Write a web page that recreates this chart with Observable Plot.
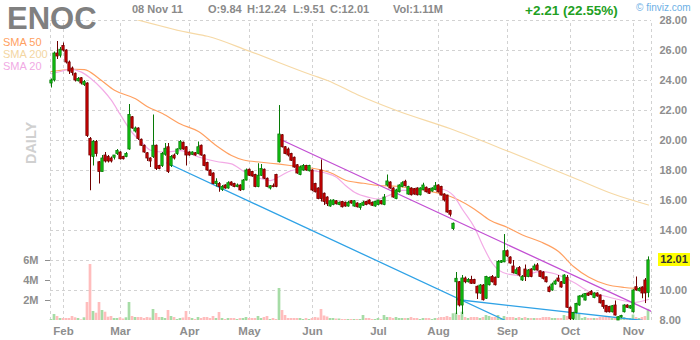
<!DOCTYPE html>
<html>
<head>
<meta charset="utf-8">
<script src="https://cdn.jsdelivr.net/npm/d3@7"></script>
<script src="https://cdn.jsdelivr.net/npm/@observablehq/plot@0.6"></script>
<style>
  body { margin: 0; background: #fff; font-family: "Liberation Sans", Arial, sans-serif; }
  #chart { position: relative; width: 700px; height: 340px; overflow: hidden; background: #fff; }
  #chart svg { position: absolute; left: 0; top: 0; }
  .lbl { position: absolute; white-space: nowrap; line-height: 1; }
</style>
</head>
<body>
<div id="chart"></div>
<script>
// ENOC daily candles, 26 Jan 2011 – 8 Nov 2011 (one entry per trading day)
const open = [
  23.8,24.0,25.8,25.65,26.3,26.0,25.2,24.8,24.45,23.95,
  24.15,23.7,23.8,20.1,18.9,19.9,18.55,17.9,19.0,18.9,
  18.8,18.85,19.1,19.2,18.9,18.9,19.4,21.55,20.6,20.8,
  20.05,19.65,19.15,18.8,18.9,19.65,18.3,18.3,19.05,19.55,
  18.3,19.0,19.1,19.4,19.85,19.55,19.2,19.05,19.15,19.1,
  19.65,19.0,18.5,18.0,17.8,17.1,17.1,16.7,17.0,16.8,
  17.2,17.1,16.9,17.0,16.7,17.33,18.05,17.9,17.7,16.9,
  17.65,18.05,17.45,16.8,16.95,17.7,18.55,20.35,19.55,19.4,
  19.1,18.85,18.35,17.7,18.0,18.3,17.95,18.0,17.1,16.8,
  18.0,16.45,16.2,15.6,15.7,15.95,15.7,15.9,15.85,15.6,
  15.95,15.6,15.8,15.5,15.65,15.9,16.0,15.85,15.6,15.7,
  15.95,15.7,17.0,17.2,16.8,16.1,16.55,16.9,17.25,16.4,
  16.8,16.75,16.8,16.35,16.7,16.85,16.75,16.6,16.7,17.0,
  16.9,16.4,16.33,15.3,14.1,10.55,10.55,9.0,10.8,10.55,
  10.7,10.7,10.25,9.8,10.33,9.45,10.35,10.9,10.85,10.85,
  11.85,11.88,12.62,12.2,11.6,11.1,11.5,10.67,11.4,10.9,
  11.4,11.35,11.67,11.28,11.2,10.88,10.2,10.0,10.4,10.8,
  10.55,10.45,10.85,8.85,8.1,8.5,9.0,9.55,9.33,9.8,
  9.9,9.5,9.8,9.67,9.3,8.98,8.9,8.55,9.0,8.0,
  8.2,8.55,9.0,8.8,8.55,10.22,9.95,10.2,10.67,9.84
];
const high = [
  24.1,25.9,26.6,26.2,26.5,26.05,25.3,24.9,24.5,24.2,
  24.2,24.0,23.85,20.2,20.0,20.0,18.6,19.0,19.2,19.0,
  18.9,19.0,19.4,19.25,18.95,19.2,22.4,21.6,20.9,20.85,
  20.1,19.7,19.2,18.85,21.7,19.7,18.35,19.2,19.8,19.8,
  19.0,19.1,19.45,20.0,19.9,19.6,19.25,19.25,19.2,19.9,
  19.7,19.05,18.55,18.05,17.85,17.45,17.2,17.0,17.05,17.25,
  17.25,17.15,17.1,17.05,17.4,18.1,18.1,17.95,17.75,18.45,
  18.4,18.1,17.5,17.0,17.1,17.75,22.33,20.4,19.6,19.5,
  19.15,18.9,18.4,18.3,18.4,18.35,18.35,18.05,17.15,16.85,
  18.7,16.5,16.25,16.05,16.05,16.0,15.9,15.95,15.9,15.95,
  16.0,16.0,15.85,15.8,15.95,15.95,16.05,15.9,15.95,16.0,
  16.0,16.4,17.7,17.25,16.85,16.75,17.05,17.25,17.35,16.95,
  16.85,16.8,16.85,16.85,17.15,16.9,16.8,16.85,17.2,17.05,
  16.95,16.45,16.35,15.35,14.5,11.2,10.6,11.0,10.9,10.8,
  10.95,10.75,10.3,10.4,10.4,10.95,10.9,11.0,10.9,12.0,
  12.0,13.73,12.7,12.25,12.0,11.5,11.6,11.0,11.7,11.4,
  11.45,11.75,11.8,11.3,11.25,10.9,10.3,10.5,10.7,11.0,
  10.6,11.05,11.0,8.9,8.55,9.15,9.65,9.75,9.8,9.85,
  10.0,9.85,9.85,9.7,9.35,9.0,8.95,9.0,9.3,8.25,
  8.35,9.05,9.05,9.0,10.05,10.9,10.2,10.25,10.8,12.24
];
const low = [
  23.5,23.9,25.4,25.5,25.9,25.1,24.4,24.3,23.9,23.9,
  23.7,23.6,20.2,16.65,18.3,18.9,17.1,17.9,18.5,18.5,
  18.5,18.7,19.0,18.7,18.7,18.85,19.35,20.75,20.5,20.0,
  19.6,19.15,18.6,18.2,18.8,18.0,18.05,18.2,18.95,17.8,
  18.2,18.7,19.0,19.35,19.35,18.3,18.95,19.0,18.95,19.05,
  18.95,18.25,17.95,17.6,17.05,16.9,16.55,16.6,16.75,16.75,
  16.95,16.85,16.85,16.6,16.65,17.3,17.6,17.55,16.85,16.85,
  17.6,17.4,16.85,16.7,16.85,16.85,18.5,19.5,19.05,18.9,
  18.6,18.15,17.75,17.65,17.95,17.95,17.9,16.6,16.5,16.05,
  15.9,15.67,15.6,15.55,15.65,15.7,15.65,15.5,15.55,15.55,
  15.75,15.55,15.5,15.35,15.6,15.65,15.7,15.6,15.55,15.65,
  15.7,15.65,16.9,16.75,16.15,16.05,16.5,16.85,16.9,16.35,
  16.3,16.35,16.3,16.3,16.65,16.5,16.4,16.55,16.65,16.5,
  16.3,15.9,15.15,14.9,14.0,8.4,8.9,8.4,10.45,10.5,
  10.4,10.4,9.4,9.75,9.3,9.4,10.3,10.5,10.3,10.8,
  11.8,11.85,12.2,11.75,11.1,11.05,10.9,10.6,10.6,10.85,
  10.85,11.3,11.3,10.85,10.7,10.5,9.85,9.95,10.35,10.55,
  10.15,10.4,8.8,8.0,8.0,8.45,8.95,9.5,9.3,9.6,
  9.65,9.45,9.55,9.1,8.75,8.5,8.5,8.5,8.3,8.0,
  8.15,8.5,8.8,8.75,8.5,9.95,9.9,9.45,9.13,9.51
];
const close = [
  24.0,25.8,25.6,26.05,26.0,25.2,24.6,24.5,24.0,24.1,
  23.8,23.9,20.3,19.0,19.9,19.1,17.9,18.8,18.6,18.6,
  18.6,19.0,19.3,18.75,18.75,19.1,21.7,20.8,20.8,20.1,
  19.65,19.2,18.8,18.6,19.65,18.1,18.1,19.1,19.45,17.9,
  18.9,18.8,19.4,19.9,19.4,19.0,19.0,19.2,19.0,19.55,
  19.0,18.3,18.0,17.65,17.1,17.25,16.9,16.9,16.8,17.15,
  17.0,16.9,17.0,16.67,17.33,18.0,17.65,17.6,16.9,17.65,
  18.1,17.45,16.9,16.95,16.9,16.9,20.4,19.55,19.1,19.0,
  18.65,18.2,17.8,18.2,18.3,18.0,18.3,16.67,16.55,16.1,
  16.1,15.9,15.75,15.95,16.0,15.75,15.85,15.55,15.6,15.85,
  15.8,15.95,15.55,15.75,15.85,15.7,15.75,15.65,15.9,16.0,
  15.75,16.2,17.27,16.8,16.2,16.67,17.0,17.15,16.95,16.9,
  16.35,16.4,16.35,16.8,17.0,16.55,16.45,16.8,16.95,16.55,
  16.33,16.0,15.2,15.05,14.45,10.78,9.0,10.8,10.55,10.7,
  10.45,10.45,9.8,10.33,9.35,10.9,10.83,10.55,10.35,11.9,
  11.95,12.62,12.27,11.8,11.15,11.35,11.0,10.9,10.9,11.33,
  10.9,11.6,11.33,10.9,10.78,10.55,9.9,10.4,10.6,10.6,
  10.2,11.0,8.85,8.1,8.5,9.1,9.6,9.65,9.77,9.65,
  9.7,9.8,9.6,9.15,8.9,8.55,8.55,8.95,8.33,8.22,
  8.3,9.0,8.85,8.95,10.0,10.0,10.1,9.8,9.8,12.01
];
// volume in millions of shares
const volume = [
  0.1,0.6,0.4,0.2,0.2,0.2,0.2,0.4,0.27,0.2,
  0.07,0.27,1.8,5.6,0.9,0.73,1.8,1.0,0.83,0.33,
  0.4,0.2,0.2,0.27,0.15,0.27,1.8,0.4,0.3,0.3,
  0.3,0.2,0.3,0.25,1.1,0.7,0.3,0.3,0.2,1.0,
  0.4,0.3,0.1,0.2,0.25,0.9,0.3,0.2,0.1,0.3,
  0.2,0.3,0.3,0.2,0.4,0.2,0.8,0.2,0.1,0.2,
  0.2,0.2,0.1,0.2,0.2,0.3,0.2,0.2,0.2,0.4,
  0.2,0.3,0.4,0.1,0.2,0.1,3.2,1.0,0.5,0.2,
  0.2,0.2,0.2,0.2,0.1,0.2,0.1,0.2,0.3,0.25,
  1.1,0.45,0.35,0.2,0.2,0.15,0.15,0.1,0.1,0.1,
  0.1,0.1,0.1,0.1,0.5,0.2,0.2,0.1,0.1,0.2,
  0.1,0.5,0.3,0.3,0.2,0.3,0.2,0.2,0.2,0.2,
  0.3,0.2,0.2,0.1,0.2,0.2,0.2,0.1,0.2,0.2,
  0.3,0.3,0.4,0.3,0.67,0.73,0.5,0.83,0.3,0.2,
  0.3,0.3,0.3,0.2,0.3,0.5,0.4,0.3,0.3,0.5,
  0.2,0.4,0.3,0.3,0.3,0.2,0.3,0.2,0.3,0.2,
  0.2,0.2,0.2,0.2,0.3,0.3,0.3,0.2,0.2,0.2,
  0.2,0.5,0.4,0.4,0.8,0.8,0.6,0.2,0.3,0.2,
  0.2,0.2,0.2,0.3,0.3,0.3,0.3,0.2,0.3,0.3,
  0.2,0.3,0.2,0.2,0.55,0.3,0.2,0.3,0.4,1.11
];

// moving averages, sampled by trading-day index
const sma50Idx = [0,8,11,16,21,28,32,37,43,49,55,60,64,70,76,82,87,93,98,104,109,115,120,126,131,135,141,146,152,157,163,169,174,179,185,191,199];
const sma50Val = [24.6,24.75,24.73,24.1,23.35,22.78,22.25,21.8,21.1,20.6,19.65,19.0,18.7,18.55,18.42,18.27,18.15,17.85,17.35,17.15,17.0,16.95,16.8,16.6,16.4,16.1,15.42,14.7,14.2,13.7,13.25,12.6,11.6,10.9,10.4,10.2,10.1];
const sma20Idx = [0,3,6,10,13,17,20,23,27,30,33,38,43,49,55,60,64,69,73,76,80,84,87,91,95,98,101,106,109,112,117,122,127,130,134,137,141,144,147,152,157,163,168,174,179,185,190,194,199];
const sma20Val = [24.45,24.6,24.75,24.56,24.15,23.4,22.67,21.7,20.5,19.9,19.35,19.22,19.33,18.9,18.6,18.44,17.95,17.5,17.33,17.6,18.0,18.1,18.0,17.85,17.55,17.0,16.55,16.2,16.1,16.3,16.67,16.67,16.78,16.75,16.33,15.4,14.2,12.9,11.8,11.1,11.0,11.28,11.1,10.55,9.95,9.6,9.35,9.2,9.4];
const sma200Idx = [28,45,52,66,87,92,102,115,133,152,176,187,199];
const sma200Val = [28.08,27.22,26.95,25.95,24.35,24.0,23.05,22.0,20.78,19.3,17.35,16.45,15.7];

// trend lines: [start index, start price, end index, end price]
const supportA = [38.5, 18.5, 151.3, 8.0];
const supportB = [135, 9.4, 197, 8.0];
const resistance = [76, 20.1, 200, 8.6];

const monthLabels = ["Feb","Mar","Apr","May","Jun","Jul","Aug","Sep","Oct","Nov"];
const priceTicks = [8,10,12,14,16,18,20,22,24,26,28];
const volumeTicks = [2,4,6];
const holidays = ["2011-02-21","2011-04-22","2011-05-30","2011-07-04","2011-09-05"];

// trading calendar
const days = [];
for (let d = new Date(Date.UTC(2011, 0, 26)); days.length < open.length; d = new Date(d.getTime() + 864e5)) {
  const wd = d.getUTCDay();
  if (wd !== 0 && wd !== 6 && !holidays.includes(d.toISOString().slice(0, 10))) days.push(d);
}
const candles = open.map((o, i) => ({i, date: days[i], o, h: high[i], l: low[i], c: close[i], v: volume[i], up: close[i] >= o}));
const monthStarts = candles.filter((d, k) => k > 0 && d.date.getUTCMonth() !== candles[k - 1].date.getUTCMonth()).map(d => d.i);

const series = (idx, val) => idx.map((i, k) => ({i, v: val[k]}));
const segment = a => [{i: a[0], v: a[1]}, {i: a[2], v: a[3]}];

const W = 700, H = 340;
const frame = {width: W, height: H, marginTop: 20, marginBottom: 20, marginLeft: 50, marginRight: 49};
const xDomain = [-1 / 3, open.length];
const font = {fontFamily: "Liberation Sans, Arial, sans-serif", background: "transparent", overflow: "visible"};
const gridColor = "#d2d2d2";
const axisColor = "#8e8e8e";

// layer 1: grid and axes
const gridPlot = Plot.plot({
  ...frame,
  style: {...font, background: "#fff"},
  x: {type: "linear", domain: xDomain},
  y: {domain: [8, 28]},
  marks: [
    Plot.ruleY(priceTicks.filter(p => p > 8), {x1: xDomain[0], x2: xDomain[1], stroke: gridColor, strokeDasharray: "3,3"}),
    Plot.ruleX([xDomain[0], ...monthStarts, xDomain[1]], {y1: 8, y2: 28, stroke: gridColor, strokeDasharray: "3,3"}),
    Plot.axisY({anchor: "right", label: null, ticks: priceTicks, tickFormat: d => d.toFixed(2), tickSize: 0, tickPadding: 8,
      fontSize: 11, fontWeight: "bold", color: axisColor}),
    Plot.axisX({label: null, ticks: monthStarts, tickFormat: t => monthLabels[monthStarts.indexOf(t)], tickSize: 0, tickPadding: 6,
      fontSize: 11.5, fontWeight: "bold", color: axisColor})
  ]
});

// layer 2: volume
const volumePlot = Plot.plot({
  ...frame,
  style: font,
  x: {type: "linear", domain: xDomain, axis: null},
  y: {domain: [0, 30]},
  color: {type: "identity"},
  marks: [
    Plot.rect(candles, {x1: d => d.i - 0.45, x2: d => d.i + 0.45, y1: 0, y2: "v", fill: d => d.up ? "#a6dca6" : "#ffbdbd"}),
    Plot.axisY({anchor: "left", label: null, ticks: volumeTicks, tickFormat: d => d + "M", tickSize: 5, tickPadding: 7,
      fontSize: 11, fontWeight: "bold", color: axisColor})
  ]
});

// layer 3: price, averages, trend lines
const pricePlot = Plot.plot({
  ...frame,
  style: font,
  x: {type: "linear", domain: xDomain, axis: null},
  y: {domain: [8, 28], axis: null},
  color: {type: "identity"},
  marks: [
    Plot.line(series(sma200Idx, sma200Val), {x: "i", y: "v", stroke: "#f6d9a6", strokeWidth: 1.2, curve: "monotone-x", clip: true}),
    Plot.line(series(sma50Idx, sma50Val), {x: "i", y: "v", stroke: "#ffa061", strokeWidth: 1.2, curve: "monotone-x"}),
    Plot.line(series(sma20Idx, sma20Val), {x: "i", y: "v", stroke: "#f3abe6", strokeWidth: 1.2, curve: "monotone-x"}),
    Plot.line(segment(supportA), {x: "i", y: "v", stroke: "#2fa2e6", strokeWidth: 1.3, clip: true}),
    Plot.line(segment(supportB), {x: "i", y: "v", stroke: "#2fa2e6", strokeWidth: 1.3, clip: true}),
    Plot.line(segment(resistance), {x: "i", y: "v", stroke: "#c24fd3", strokeWidth: 1.3, clip: true}),
    Plot.ruleX(candles, {x: "i", y1: "l", y2: "h", stroke: d => d.up ? "#067a06" : "#700000", strokeWidth: 1}),
    Plot.rect(candles, {x1: d => d.i - 0.38, x2: d => d.i + 0.38, y1: "o", y2: "c",
      fill: d => d.up ? "#14c814" : "#d20000", stroke: d => d.up ? "#067a06" : "#700000", strokeWidth: 0.8})
  ]
});

const chart = document.getElementById("chart");
chart.append(gridPlot, volumePlot, pricePlot);

function label(text, css) {
  const el = document.createElement("div");
  el.className = "lbl";
  el.textContent = text;
  Object.assign(el.style, css);
  chart.append(el);
  return el;
}

const last = candles[candles.length - 1];
const prev = candles[candles.length - 2];
const chg = last.c - prev.c;
const fmt = d3.format(".2f");

label("ENOC", {left: "7px", top: "3px", fontSize: "31px", fontWeight: "bold", color: "#808080"});
label(d3.utcFormat("%d %b %y")(last.date), {left: "132px", top: "4px", fontSize: "11px", fontWeight: "bold", color: "#8a8a8a"});
label("O:" + fmt(last.o), {left: "208px", top: "4px", fontSize: "11px", fontWeight: "bold", color: "#8a8a8a"});
label("H:" + fmt(last.h), {left: "247px", top: "4px", fontSize: "11px", fontWeight: "bold", color: "#8a8a8a"});
label("L:" + fmt(last.l), {left: "293px", top: "4px", fontSize: "11px", fontWeight: "bold", color: "#8a8a8a"});
label("C:" + fmt(last.c), {left: "330px", top: "4px", fontSize: "11px", fontWeight: "bold", color: "#8a8a8a"});
label("Vol:" + fmt(last.v) + "M", {left: "393px", top: "4px", fontSize: "11px", fontWeight: "bold", color: "#8a8a8a"});
label((chg >= 0 ? "+" : "") + fmt(chg) + " (" + fmt(chg / prev.c * 100) + "%)",
  {left: "525px", top: "4px", fontSize: "13.5px", fontWeight: "bold", color: "#22a022"});
label("\u00a9 finviz.com", {left: "636px", top: "3px", fontSize: "10px", color: "#6db0e6"});

label("SMA 50", {left: "3px", top: "37px", fontSize: "11px", color: "#ffa061"});
label("SMA 200", {left: "3px", top: "49px", fontSize: "11px", color: "#f3d6a2"});
label("SMA 20", {left: "3px", top: "61px", fontSize: "11px", color: "#f1aae4"});

// vertical period caption
const ns = "http://www.w3.org/2000/svg";
const cap = document.createElementNS(ns, "svg");
cap.setAttribute("width", 60);
cap.setAttribute("height", 340);
const capText = document.createElementNS(ns, "text");
capText.setAttribute("transform", "translate(36,143) rotate(-90)");
capText.setAttribute("text-anchor", "middle");
capText.setAttribute("font-family", "Liberation Sans, Arial, sans-serif");
capText.setAttribute("font-size", "14.5");
capText.setAttribute("font-weight", "bold");
capText.setAttribute("fill", "#d0d0d0");
capText.textContent = "DAILY";
cap.append(capText);
chart.append(cap);

// last close tag on the price axis
const yLast = pricePlot.scale("y").apply(last.c);
label(fmt(last.c), {left: "658px", top: (yLast - 6.5) + "px", width: "32px", height: "13px", lineHeight: "13px",
  textAlign: "center", background: "#ffff00", fontSize: "11px", fontWeight: "bold", color: "#333"});
</script>
</body>
</html>
